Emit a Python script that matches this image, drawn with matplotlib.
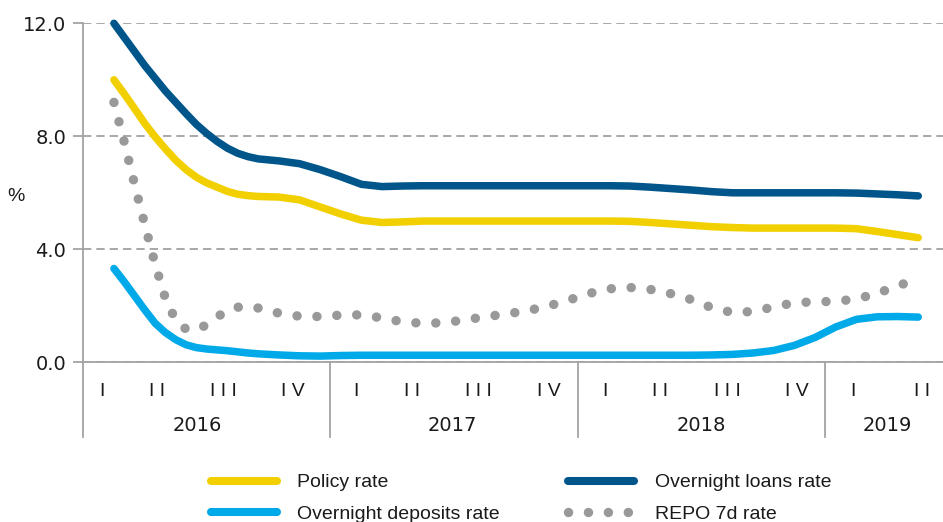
import matplotlib.pyplot as plt
from matplotlib.lines import Line2D

plt.rcParams["font.family"] = ["Liberation Sans", "DejaVu Sans"]

# months counted from Jan 2016 (0 = start of 2016)
months = [1.5, 2.0, 2.5, 3.0, 3.5, 4.0, 4.5, 5.0, 5.5, 6.0, 6.5, 7.0, 7.5, 8.0, 8.5,
          9.5, 10.5, 11.5, 12.5, 13.5, 14.5, 15.5, 16.5, 17.5, 18.5, 19.5, 20.5,
          21.5, 22.5, 23.5, 24.5, 25.5, 26.5, 27.5, 28.5, 29.5, 30.5, 31.5, 32.5,
          33.5, 34.5, 35.5, 36.5, 37.5, 38.5, 39.5, 40.5]

policy_rate = [10.0, 9.5, 8.98, 8.45, 7.98, 7.55, 7.15, 6.82, 6.55, 6.35, 6.2, 6.05, 5.95, 5.9, 5.87,
               5.85, 5.75, 5.5, 5.25, 5.03, 4.95, 4.97, 5.0, 5.0, 5.0, 5.0, 5.0,
               5.0, 5.0, 5.0, 5.0, 5.0, 4.99, 4.95, 4.9, 4.85, 4.8, 4.77, 4.75,
               4.75, 4.75, 4.75, 4.75, 4.73, 4.63, 4.52, 4.41]

overnight_loans = [12.0, 11.5, 11.0, 10.5, 10.05, 9.6, 9.2, 8.8, 8.42, 8.1, 7.82, 7.58, 7.4, 7.28, 7.2,
                   7.13, 7.03, 6.82, 6.57, 6.3, 6.22, 6.24, 6.25, 6.25, 6.25, 6.25, 6.25,
                   6.25, 6.25, 6.25, 6.25, 6.25, 6.24, 6.2, 6.15, 6.1, 6.04, 6.0, 6.0,
                   6.0, 6.0, 6.0, 6.0, 5.99, 5.96, 5.93, 5.89]

overnight_deposits = [3.32, 2.85, 2.35, 1.85, 1.38, 1.05, 0.8, 0.62, 0.52, 0.47, 0.44, 0.41, 0.37, 0.33, 0.3,
                      0.26, 0.23, 0.22, 0.24, 0.25, 0.25, 0.25, 0.25, 0.25, 0.25, 0.25, 0.25,
                      0.25, 0.25, 0.25, 0.25, 0.25, 0.25, 0.25, 0.25, 0.25, 0.26, 0.28, 0.33,
                      0.42, 0.6, 0.88, 1.25, 1.52, 1.61, 1.62, 1.6]

repo_7d = [9.2, 7.8, 6.3, 4.86, 3.47, 2.25, 1.48, 1.17, 1.15, 1.33, 1.6, 1.84, 1.95, 1.98, 1.92,
           1.74, 1.63, 1.62, 1.67, 1.68, 1.57, 1.43, 1.38, 1.4, 1.5, 1.61, 1.71,
           1.82, 1.98, 2.19, 2.43, 2.6, 2.65, 2.58, 2.43, 2.22, 1.93, 1.76, 1.8,
           1.96, 2.11, 2.14, 2.16, 2.24, 2.44, 2.7, 2.97]

years = ["2016", "2017", "2018", "2019"]
quarter_names = ["I", "I I", "I I I", "I V"]
quarters_shown = [4, 4, 4, 2]

# label positions (months) under the axis
quarter_pos = [[0.91, 3.59, 6.83, 10.18],
               [13.24, 15.95, 19.15, 22.59],
               [25.31, 27.98, 31.23, 34.62],
               [37.33, 40.68]]

YELLOW = "#f2d000"
DARK_BLUE = "#00558a"
LIGHT_BLUE = "#00a9e8"
DOT_GRAY = "#999999"
AXIS_GRAY = "#a3a3a3"
TEXT = "#1a1a1a"
FS = 14
NUM_FONT = "DejaVu Sans"  # wider digits, closer to the original

fig = plt.figure(figsize=(9.43, 5.22), dpi=100)
ax = fig.add_axes([83 / 943, 1 - 362.3 / 522, 860 / 943, 339 / 522])

line_kw = dict(lw=5.4, solid_capstyle="round", clip_on=False)
ax.plot(months, policy_rate, color=YELLOW, **line_kw)
ax.plot(months, overnight_loans, color=DARK_BLUE, **line_kw)
ax.plot(months, overnight_deposits, color=LIGHT_BLUE, **line_kw)
ax.plot(months, repo_7d, color=DOT_GRAY, lw=6.8, linestyle=(0, (0.01, 2.1)),
        dash_capstyle="round", clip_on=False)

ax.set_xlim(0, 41.7)
ax.set_ylim(0, 12)

# ---- y axis ----
ax.set_yticks([0, 4, 8, 12])
ax.set_yticklabels(["0.0", "4.0", "8.0", "12.0"], fontfamily=NUM_FONT)
ax.tick_params(axis="y", length=7, width=1.3, color=AXIS_GRAY, pad=5,
               labelsize=FS, labelcolor=TEXT)
ax.yaxis.grid(True, color="#999999", lw=1.2, linestyle=(0, (5, 3)))
ax.set_axisbelow(True)
ax.set_ylabel("%", rotation=0, fontsize=FS, color=TEXT, ha="center", va="center")
ax.yaxis.set_label_coords(-0.0785, 0.49)

for side in ["top", "right"]:
    ax.spines[side].set_visible(False)
for side in ["left", "bottom"]:
    ax.spines[side].set_color(AXIS_GRAY)
    ax.spines[side].set_linewidth(1.3)

# ---- x axis: quarters and years ----
ax.set_xticks([])
tr = ax.get_xaxis_transform()
for i, year in enumerate(years):
    ax.axvline(12 * i, ymin=-0.2204, ymax=0, color=AXIS_GRAY, lw=1.3, clip_on=False)
    pos = quarter_pos[i][:quarters_shown[i]]
    for q, x in enumerate(pos):
        ax.text(x, -0.0861, quarter_names[q], transform=tr, ha="center", va="center",
                fontsize=FS, color=TEXT)
    ax.text((pos[0] + pos[-1]) / 2, -0.185, year, transform=tr, ha="center", va="center",
            fontsize=FS, color=TEXT, fontfamily=NUM_FONT)

# ---- legend ----
handles = [
    Line2D([], [], color=YELLOW, lw=5.8, solid_capstyle="round"),
    Line2D([], [], color=LIGHT_BLUE, lw=5.8, solid_capstyle="round"),
    Line2D([], [], color=DARK_BLUE, lw=5.8, solid_capstyle="round"),
    Line2D([], [], color=DOT_GRAY, lw=6.8, linestyle=(0, (0.01, 2.1)), dash_capstyle="round"),
]
labels = ["Policy rate", "Overnight deposits rate", "Overnight loans rate", "REPO 7d rate"]
fig.legend(handles, labels, ncol=2, loc="upper left", bbox_to_anchor=(201 / 943, 1 - 464 / 522),
           frameon=False, fontsize=FS, handlelength=3.4, handletextpad=1.06,
           columnspacing=3.5, labelspacing=0.72, borderpad=0, labelcolor=TEXT)

plt.savefig("out.png", dpi=100)
